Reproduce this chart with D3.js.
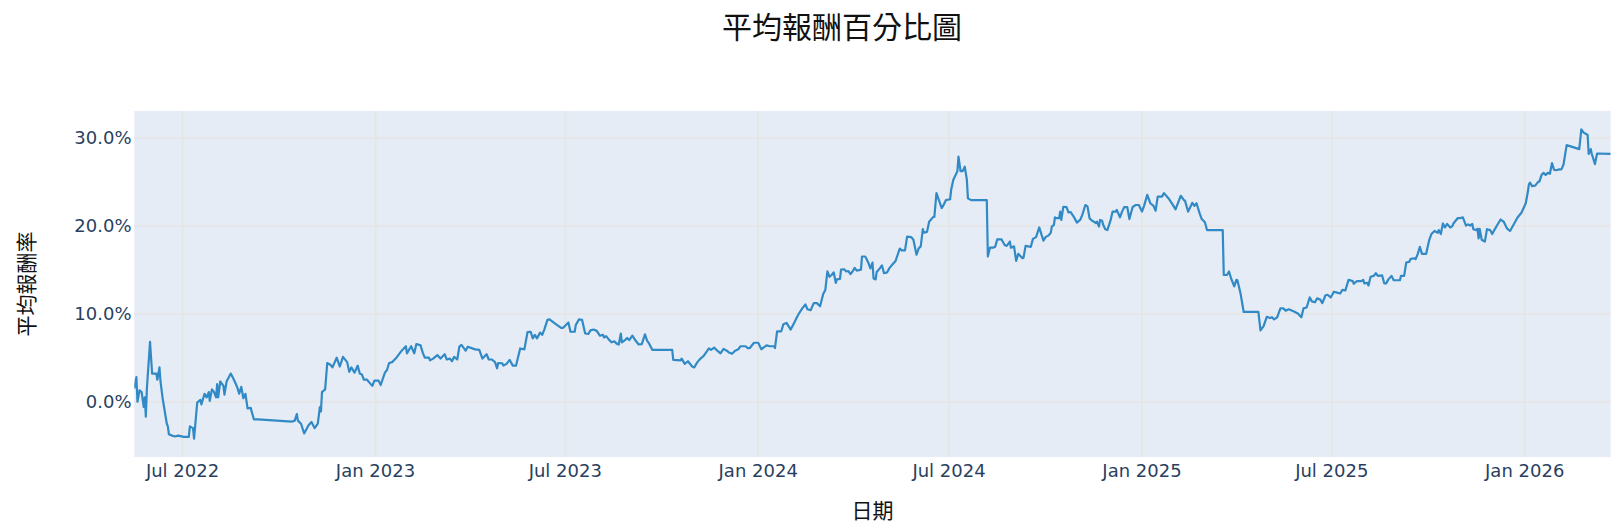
<!DOCTYPE html>
<html>
<head>
<meta charset="utf-8">
<script src="https://cdn.jsdelivr.net/npm/d3@7"></script>
<style>
  html, body { margin: 0; padding: 0; background: #fff; }
  svg { display: block; }
</style>
</head>
<body>
<div id="chart"></div>
<script>
// 平均報酬率 (%) by date
var dates = [
  "2022-05-16","2022-05-18","2022-05-19","2022-05-21","2022-05-23","2022-05-25","2022-05-26","2022-05-27","2022-05-28","2022-05-31",
  "2022-06-02","2022-06-06","2022-06-07","2022-06-09","2022-06-10","2022-06-12","2022-06-16","2022-06-17","2022-06-18","2022-06-21","2022-06-24","2022-06-27",
  "2022-07-02","2022-07-07","2022-07-08","2022-07-11","2022-07-12","2022-07-15","2022-07-18","2022-07-19","2022-07-22","2022-07-24","2022-07-26","2022-07-27","2022-07-29","2022-07-31",
  "2022-08-02","2022-08-03","2022-08-04","2022-08-06","2022-08-09","2022-08-10","2022-08-12","2022-08-16","2022-08-19","2022-08-22","2022-08-24","2022-08-26","2022-08-28","2022-08-30",
  "2022-09-01","2022-09-04","2022-09-07","2022-09-11",
  "2022-10-13","2022-10-16","2022-10-18","2022-10-19","2022-10-22","2022-10-25","2022-10-29",
  "2022-11-01","2022-11-04","2022-11-07","2022-11-09","2022-11-10","2022-11-11","2022-11-14","2022-11-16","2022-11-19","2022-11-21","2022-11-25","2022-11-28",
  "2022-12-01","2022-12-05","2022-12-07","2022-12-09","2022-12-12","2022-12-15","2022-12-17","2022-12-19","2022-12-21","2022-12-24","2022-12-26","2022-12-29","2022-12-31",
  "2023-01-04","2023-01-06","2023-01-10","2023-01-12","2023-01-14","2023-01-17","2023-01-21","2023-01-26","2023-01-30","2023-01-31",
  "2023-02-04","2023-02-07","2023-02-09","2023-02-13","2023-02-15","2023-02-17","2023-02-21","2023-02-22","2023-02-25",
  "2023-03-01","2023-03-04","2023-03-08","2023-03-10","2023-03-13","2023-03-15","2023-03-17","2023-03-20","2023-03-22","2023-03-24","2023-03-28","2023-03-30",
  "2023-04-06","2023-04-10","2023-04-13","2023-04-17","2023-04-19","2023-04-22","2023-04-25","2023-04-27","2023-04-28",
  "2023-05-02","2023-05-03","2023-05-06","2023-05-09","2023-05-12","2023-05-15","2023-05-19","2023-05-23","2023-05-26","2023-05-29","2023-05-31",
  "2023-06-02","2023-06-04","2023-06-07","2023-06-09","2023-06-11","2023-06-14","2023-06-16","2023-06-21","2023-06-27","2023-06-29",
  "2023-07-04","2023-07-06","2023-07-10","2023-07-11","2023-07-14","2023-07-17","2023-07-20","2023-07-23","2023-07-25","2023-07-28","2023-07-31",
  "2023-08-03","2023-08-06","2023-08-07","2023-08-09","2023-08-12","2023-08-14","2023-08-17","2023-08-19","2023-08-21","2023-08-23","2023-08-24","2023-08-27","2023-08-29","2023-08-31",
  "2023-09-03","2023-09-06","2023-09-09","2023-09-12","2023-09-15","2023-09-17","2023-09-19","2023-09-22",
  "2023-10-11","2023-10-12","2023-10-19","2023-10-20","2023-10-23","2023-10-26","2023-10-30",
  "2023-11-01","2023-11-04","2023-11-07","2023-11-10","2023-11-15","2023-11-17","2023-11-20","2023-11-23","2023-11-26","2023-11-29",
  "2023-12-02","2023-12-04","2023-12-07","2023-12-10","2023-12-13","2023-12-15","2023-12-20","2023-12-22","2023-12-24","2023-12-28",
  "2024-01-01","2024-01-04","2024-01-06","2024-01-09","2024-01-12","2024-01-16","2024-01-17","2024-01-19","2024-01-23","2024-01-25","2024-01-28",
  "2024-02-01","2024-02-04","2024-02-08","2024-02-12","2024-02-15","2024-02-17","2024-02-20","2024-02-23","2024-02-26","2024-02-29",
  "2024-03-03","2024-03-05","2024-03-07","2024-03-09","2024-03-11","2024-03-13","2024-03-15","2024-03-16","2024-03-19","2024-03-20","2024-03-23","2024-03-25","2024-03-27","2024-03-29","2024-03-31",
  "2024-04-02","2024-04-04","2024-04-08","2024-04-09","2024-04-12","2024-04-13","2024-04-15","2024-04-17","2024-04-19","2024-04-20","2024-04-22","2024-04-23","2024-04-26","2024-04-28","2024-04-30",
  "2024-05-03","2024-05-05","2024-05-08","2024-05-11","2024-05-13","2024-05-15","2024-05-17","2024-05-20","2024-05-22","2024-05-26","2024-05-28","2024-05-31",
  "2024-06-02","2024-06-04","2024-06-06","2024-06-07","2024-06-10","2024-06-12","2024-06-16","2024-06-17","2024-06-19","2024-06-24","2024-06-26","2024-06-28",
  "2024-07-02","2024-07-03","2024-07-05","2024-07-09","2024-07-10","2024-07-12","2024-07-14","2024-07-16","2024-07-18","2024-07-19","2024-07-22",
  "2024-08-06","2024-08-07","2024-08-09","2024-08-12","2024-08-14","2024-08-16","2024-08-20","2024-08-23","2024-08-25","2024-08-28","2024-08-29",
  "2024-09-01","2024-09-03","2024-09-05","2024-09-09","2024-09-10","2024-09-12","2024-09-17","2024-09-19","2024-09-22","2024-09-25","2024-09-29",
  "2024-10-01","2024-10-04","2024-10-06","2024-10-07","2024-10-09","2024-10-10","2024-10-11","2024-10-14","2024-10-15","2024-10-16","2024-10-18","2024-10-21","2024-10-23","2024-10-25","2024-10-28","2024-10-31",
  "2024-11-03","2024-11-05","2024-11-08","2024-11-10","2024-11-12","2024-11-14","2024-11-18","2024-11-19","2024-11-21","2024-11-22","2024-11-24","2024-11-25","2024-11-27","2024-11-29",
  "2024-12-02","2024-12-04","2024-12-07","2024-12-08","2024-12-11","2024-12-13","2024-12-15","2024-12-18","2024-12-20","2024-12-23","2024-12-26","2024-12-29",
  "2025-01-01","2025-01-03","2025-01-06","2025-01-09","2025-01-12","2025-01-14","2025-01-16","2025-01-20","2025-01-22","2025-01-27","2025-01-30",
  "2025-02-02","2025-02-07","2025-02-10","2025-02-11","2025-02-14","2025-02-16","2025-02-18","2025-02-20","2025-02-22","2025-02-25","2025-02-27",
  "2025-03-02","2025-03-04","2025-03-19","2025-03-20","2025-03-23","2025-03-25","2025-03-27","2025-03-30",
  "2025-04-01","2025-04-02","2025-04-05","2025-04-08","2025-04-22","2025-04-24","2025-04-27","2025-04-30",
  "2025-05-03","2025-05-05","2025-05-07","2025-05-10","2025-05-13","2025-05-16","2025-05-18","2025-05-21","2025-05-26","2025-05-30",
  "2025-06-02","2025-06-04","2025-06-07","2025-06-10","2025-06-12","2025-06-15","2025-06-17","2025-06-20","2025-06-22","2025-06-25","2025-06-27","2025-06-30",
  "2025-07-03","2025-07-06","2025-07-09","2025-07-11","2025-07-14","2025-07-17","2025-07-21","2025-07-22","2025-07-25","2025-07-29","2025-07-31",
  "2025-08-01","2025-08-04","2025-08-05","2025-08-07","2025-08-10","2025-08-12","2025-08-14","2025-08-18","2025-08-20","2025-08-22","2025-08-24","2025-08-27","2025-08-29",
  "2025-09-04","2025-09-05","2025-09-08","2025-09-10","2025-09-13","2025-09-14","2025-09-17","2025-09-19","2025-09-21","2025-09-23","2025-09-25","2025-09-29",
  "2025-10-02","2025-10-04","2025-10-07","2025-10-10","2025-10-11","2025-10-13","2025-10-15","2025-10-17","2025-10-19","2025-10-22","2025-10-24","2025-10-25","2025-10-29","2025-10-31",
  "2025-11-03","2025-11-06","2025-11-08","2025-11-10","2025-11-12","2025-11-13","2025-11-16","2025-11-17","2025-11-18","2025-11-19","2025-11-21","2025-11-24","2025-11-26","2025-11-29",
  "2025-12-01","2025-12-03","2025-12-06","2025-12-09","2025-12-12","2025-12-15","2025-12-18","2025-12-22","2025-12-25","2025-12-29",
  "2026-01-02","2026-01-04","2026-01-05","2026-01-06","2026-01-08","2026-01-11","2026-01-14","2026-01-15","2026-01-17","2026-01-19","2026-01-21","2026-01-23","2026-01-25","2026-01-27","2026-01-29","2026-01-31",
  "2026-02-03","2026-02-05","2026-02-07","2026-02-10","2026-02-22","2026-02-24","2026-02-26",
  "2026-03-02","2026-03-03","2026-03-05","2026-03-06","2026-03-09","2026-03-11","2026-03-24"
];

var returns = [
  1.5,2.8,0.0,1.3,1.1,-0.6,0.5,-1.7,1.5,6.8,
  3.2,3.2,2.5,3.9,2.3,0.4,-2.5,-2.8,-3.7,-3.85,-3.95,-3.85,
  -4.0,-4.0,-2.8,-3.0,-4.2,-0.1,0.2,-0.3,0.9,0.5,1.1,0.1,1.4,1.1,
  0.5,2.0,0.5,2.3,1.8,0.8,2.3,3.2,2.5,1.7,0.9,1.7,0.4,0.9,
  -0.75,-0.7,-2.0,-2.0,
  -2.27,-2.15,-1.4,-2.15,-2.5,-3.6,-2.7,
  -2.3,-3.0,-2.5,-0.6,-1.1,1.1,1.4,4.4,4.2,3.9,5.0,4.0,
  5.1,4.5,3.4,3.9,3.3,4.1,3.2,3.1,2.5,2.5,2.2,1.8,2.4,
  2.4,1.9,3.3,3.6,4.4,4.5,5.0,5.8,6.3,5.5,
  6.3,5.5,6.55,6.4,5.6,5.0,5.0,4.7,4.9,
  5.3,4.9,5.4,4.8,4.9,4.6,5.1,4.8,6.25,6.45,5.8,6.25,
  5.95,5.9,4.9,5.4,4.8,4.8,4.5,3.8,4.4,
  4.35,4.1,4.3,4.75,4.1,4.1,6.05,5.95,7.9,7.95,7.2,
  7.6,7.2,7.85,7.6,8.2,9.3,9.35,8.9,8.4,8.4,
  9.0,7.95,7.95,8.7,9.35,9.3,7.75,7.7,8.1,8.2,8.05,
  7.5,7.6,7.3,7.45,7.0,6.75,6.85,6.6,6.5,7.75,6.75,7.0,7.25,7.0,
  7.5,6.95,6.5,6.55,7.65,6.95,6.6,5.9,
  5.9,4.75,4.7,4.9,4.3,4.6,4.0,
  3.9,4.5,4.9,5.2,6.05,5.9,6.15,5.8,5.5,6.0,
  5.8,5.6,5.45,5.8,5.95,6.3,6.3,6.1,6.1,6.7,
  6.7,5.95,6.15,6.4,6.3,6.3,6.1,8.0,8.0,8.8,8.95,
  8.2,8.9,9.85,10.6,11.05,10.5,10.4,11.2,11.2,10.85,
  12.25,12.7,14.8,14.2,14.4,14.7,13.5,13.9,13.95,15.0,15.05,14.8,14.85,14.5,14.8,
  15.2,14.9,15.0,16.5,16.5,16.3,15.8,15.15,15.8,14.0,13.9,14.75,15.15,15.5,14.6,
  14.7,15.15,15.6,16.0,16.7,17.4,17.2,17.2,18.75,18.7,18.4,16.7,
  17.4,17.65,19.6,19.2,19.3,20.45,21.0,21.0,23.7,22.0,22.4,22.9,
  23.0,24.05,25.2,26.2,27.85,26.2,26.2,26.7,25.2,23.1,22.9,
  22.9,16.5,17.5,17.5,17.6,18.45,18.45,17.8,17.7,18.2,17.5,
  17.65,16.0,16.8,16.3,16.35,17.7,17.6,18.5,18.7,19.8,18.3,
  18.7,18.9,19.2,19.9,20.1,20.95,20.85,20.85,21.6,20.65,22.15,22.1,21.5,21.55,21.0,20.35,
  20.65,21.2,22.35,22.2,20.85,20.6,20.3,20.45,19.9,20.65,20.55,20.1,19.6,19.5,
  20.6,21.6,21.6,21.8,20.95,21.6,22.1,22.1,20.75,22.1,22.35,22.35,
  21.6,22.25,23.5,22.55,22.25,21.7,23.3,23.3,23.7,23.0,22.45,
  21.85,23.4,22.9,22.85,21.6,22.1,22.6,22.25,22.55,21.4,20.75,
  20.4,19.5,19.5,14.4,14.4,14.8,14.0,13.1,
  13.85,13.8,12.3,10.2,10.2,8.1,8.6,9.65,
  9.5,9.6,9.35,9.6,10.6,10.6,10.35,10.5,10.25,10.0,
  9.6,10.6,10.7,11.85,11.4,11.3,11.75,11.6,11.2,12.1,12.15,11.85,
  12.5,12.4,12.3,12.7,12.65,13.85,13.7,13.4,13.7,13.7,13.85,
  13.45,13.5,13.2,14.2,14.3,14.6,14.3,14.35,13.45,13.45,13.9,14.3,13.8,
  13.8,14.3,14.3,15.8,15.9,16.2,16.3,16.2,16.8,17.6,16.8,16.8,
  18.4,19.05,19.4,19.2,19.5,19.05,20.25,19.8,20.2,19.8,19.95,20.25,20.85,20.85,
  20.95,20.0,20.15,20.0,20.2,19.6,19.5,19.65,18.55,19.65,18.4,18.2,19.6,19.5,
  19.05,19.5,20.1,20.7,20.45,19.7,19.4,20.25,20.9,21.5,
  22.55,23.85,24.7,24.9,24.5,24.55,25.0,25.0,25.75,26.0,25.75,26.0,25.9,27.1,26.35,26.3,
  26.4,26.4,26.95,29.15,28.7,30.95,30.6,
  30.3,28.15,28.7,28.15,27.0,28.2,28.15
];

var xTickDates = ["2022-07-01","2023-01-01","2023-07-01","2024-01-01","2024-07-01","2025-01-01","2025-07-01","2026-01-01"];
var yTicks = [0, 10, 20, 30];
var yRange = [-6.28, 33.03];

var width = 1618, height = 532;
var plot = {left: 134.3, right: 1610.7, top: 111, bottom: 457};

var parse = d3.timeParse("%Y-%m-%d");
var data = dates.map(function(d, i){ return {date: parse(d), value: returns[i]}; });

var svg = d3.select("#chart").append("svg").attr("width", width).attr("height", height);

var x = d3.scaleTime().domain(d3.extent(data, function(d){ return d.date; })).range([plot.left, plot.right]);
var y = d3.scaleLinear().domain(yRange).range([plot.bottom, plot.top]);

// plot background
svg.append("rect").attr("x", plot.left).attr("y", plot.top)
  .attr("width", plot.right - plot.left).attr("height", plot.bottom - plot.top)
  .attr("fill", "#E5ECF6");

// grid
var xTicks = xTickDates.map(parse);
svg.append("g").selectAll("line").data(xTicks).enter().append("line")
  .attr("x1", function(d){ return x(d); }).attr("x2", function(d){ return x(d); })
  .attr("y1", plot.top).attr("y2", plot.bottom)
  .attr("stroke", "#e6e6e6").attr("stroke-width", 2);
svg.append("g").selectAll("line").data(yTicks).enter().append("line")
  .attr("x1", plot.left).attr("x2", plot.right)
  .attr("y1", function(d){ return y(d); }).attr("y2", function(d){ return y(d); })
  .attr("stroke", "#e6e6e6").attr("stroke-width", 2);

// tick labels
var fmtX = d3.timeFormat("%b %Y");
svg.append("g").selectAll("text").data(xTicks).enter().append("text")
  .attr("x", function(d){ return x(d); }).attr("y", 477)
  .attr("text-anchor", "middle")
  .attr("font-family", "'DejaVu Sans', Verdana, sans-serif").attr("font-size", "18px")
  .attr("fill", "#2a3f5f")
  .text(function(d){ return fmtX(d); });
svg.append("g").selectAll("text").data(yTicks).enter().append("text")
  .attr("x", 131.5).attr("y", function(d){ return y(d); }).attr("dy", "0.36em")
  .attr("text-anchor", "end")
  .attr("font-family", "'DejaVu Sans', Verdana, sans-serif").attr("font-size", "18px")
  .attr("fill", "#2a3f5f")
  .text(function(d){ return d.toFixed(1) + "%"; });

// line
svg.append("clipPath").attr("id", "clip").append("rect")
  .attr("x", plot.left).attr("y", plot.top)
  .attr("width", plot.right - plot.left).attr("height", plot.bottom - plot.top);
var line = d3.line().x(function(d){ return x(d.date); }).y(function(d){ return y(d.value); });
svg.append("path").datum(data)
  .attr("clip-path", "url(#clip)")
  .attr("d", line)
  .attr("fill", "none").attr("stroke", "#318ac5").attr("stroke-width", 2.2)
  .attr("stroke-linejoin", "round");

// titles
var cjk = "'Noto Sans CJK TC', 'Noto Sans CJK SC', sans-serif";
svg.append("text").attr("x", 842).attr("y", 38).attr("text-anchor", "middle")
  .attr("font-family", cjk).attr("font-size", "30px").attr("fill", "#111")
  .text("平均報酬百分比圖");
svg.append("text").attr("x", (plot.left + plot.right) / 2).attr("y", 511).attr("dy", "0.35em")
  .attr("text-anchor", "middle")
  .attr("font-family", cjk).attr("font-size", "21px").attr("fill", "#111")
  .text("日期");
svg.append("text").attr("transform", "translate(27," + ((plot.top + plot.bottom) / 2) + ") rotate(-90)")
  .attr("text-anchor", "middle").attr("dy", "0.35em")
  .attr("font-family", cjk).attr("font-size", "21px").attr("fill", "#111")
  .text("平均報酬率");
</script>
</body>
</html>
